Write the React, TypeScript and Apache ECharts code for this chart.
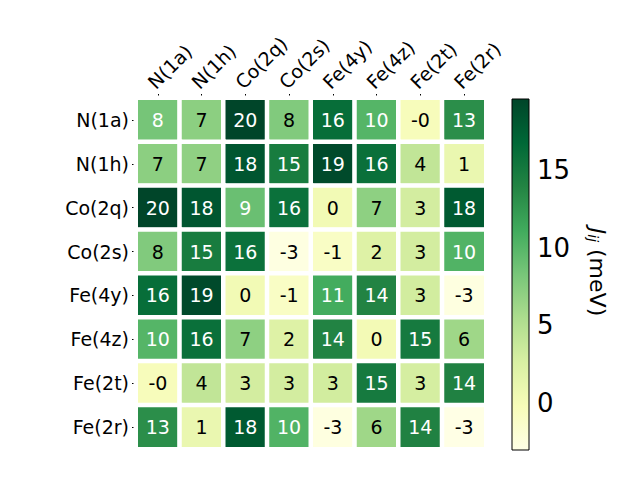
import React, { useEffect, useRef } from "react";
import * as echarts from "echarts";

const labels = ["N(1a)", "N(1h)", "Co(2q)", "Co(2s)", "Fe(4y)", "Fe(4z)", "Fe(2t)", "Fe(2r)"];

// rows of the symmetric J_ij matrix (meV)
const rowN1a = [8.4, 7.2, 19.6, 7.8, 16.2, 10.1, -0.3, 13.2];
const rowN1h = [7.2, 7.0, 18.2, 14.8, 19.2, 16.0, 4.2, 1.0];
const rowCo2q = [19.6, 18.2, 9.0, 15.9, 0.3, 7.1, 3.0, 17.9];
const rowCo2s = [7.8, 14.8, 15.9, -2.8, -1.0, 2.2, 3.0, 10.3];
const rowFe4y = [16.2, 19.2, 0.3, -1.0, 11.0, 14.0, 3.1, -2.7];
const rowFe4z = [10.1, 16.0, 7.1, 2.2, 14.0, 0.2, 15.0, 6.2];
const rowFe2t = [-0.3, 4.2, 3.0, 3.0, 3.1, 15.0, 2.9, 14.2];
const rowFe2r = [13.2, 1.0, 17.9, 10.3, -2.7, 6.2, 14.2, -3.0];
const matrix = [rowN1a, rowN1h, rowCo2q, rowCo2s, rowFe4y, rowFe4z, rowFe2t, rowFe2r];

const vMin = -3.03;
const vMax = 19.6;
const colorbarTicks = [0, 5, 10, 15];
const ylgn = ["#ffffe5", "#f7fcb9", "#d9f0a3", "#addd8e", "#78c679", "#41ab5d", "#238443", "#006837", "#004529"];

const FONT = "DejaVu Sans";

export default function App() {
  const ref = useRef<HTMLDivElement>(null);
  useEffect(() => {
    if (!ref.current) return;
    const chart = echarts.init(ref.current, null, { renderer: "svg" });
    const threshold = (vMin + vMax) / 2;
    const data: any[] = [];
    matrix.forEach((row, r) => {
      row.forEach((v, c) => {
        data.push({
          value: [c, r, v],
          label: { color: v > threshold ? "#ffffff" : "#000000" },
        });
      });
    });
    const cb = { x: 512, y: 99, w: 17, h: 351 };
    chart.setOption({
      animation: false,
      backgroundColor: "#ffffff",
      textStyle: { fontFamily: FONT },
      grid: [
        { left: 136, top: 98, width: 350, height: 351, containLabel: false },
        { left: cb.x, top: cb.y, width: cb.w, height: cb.h, containLabel: false },
      ],
      xAxis: [
        {
          type: "category",
          data: labels,
          position: "top",
          gridIndex: 0,
          axisLine: { show: false },
          axisTick: { show: true, alignWithLabel: true, length: 4, lineStyle: { color: "#000" } },
          axisLabel: {
            rotate: -45,
            fontSize: 19,
            color: "#000",
            fontFamily: FONT,
            margin: 6,
            interval: 0,
            align: "left",
            verticalAlign: "bottom",
          },
          splitLine: { show: false },
        },
        { type: "value", gridIndex: 1, show: false, min: 0, max: 1 },
      ],
      yAxis: [
        {
          type: "category",
          data: labels,
          inverse: true,
          gridIndex: 0,
          axisLine: { show: false },
          axisTick: { show: true, alignWithLabel: true, length: 4, lineStyle: { color: "#000" } },
          axisLabel: { fontSize: 19, color: "#000", fontFamily: FONT, margin: 7, interval: 0 },
          splitLine: { show: false },
        },
        {
          type: "value",
          gridIndex: 1,
          min: vMin,
          max: vMax,
          position: "right",
          axisLine: { show: false },
          splitLine: { show: false },
          axisTick: { show: true, length: 5, lineStyle: { color: "#000" }, customValues: colorbarTicks },
          axisLabel: { fontSize: 26, color: "#000", fontFamily: FONT, margin: 8, customValues: colorbarTicks },
        },
      ],
      visualMap: {
        show: false,
        type: "continuous",
        min: vMin,
        max: vMax,
        dimension: 2,
        seriesIndex: 0,
        inRange: { color: ylgn },
      },
      series: [
        {
          type: "heatmap",
          xAxisIndex: 0,
          yAxisIndex: 0,
          data,
          itemStyle: { borderColor: "#ffffff", borderWidth: 4.5 },
          label: {
            show: true,
            fontSize: 19,
            fontFamily: FONT,
            formatter: (p: any) => (p.value[2] as number).toFixed(0),
          },
          emphasis: { disabled: true },
        },
      ],
      graphic: [
        {
          type: "rect",
          shape: { x: cb.x, y: cb.y, width: cb.w, height: cb.h },
          style: {
            fill: new echarts.graphic.LinearGradient(
              0, 1, 0, 0,
              ylgn.map((c, i) => ({ offset: i / (ylgn.length - 1), color: c }))
            ),
            stroke: "#000",
            lineWidth: 1,
          },
          z: 10,
        },
        {
          type: "text",
          x: 597,
          y: 272,
          rotation: -Math.PI / 2,
          style: {
            text: "{J|J}{s|ij}{n| (meV)}",
            align: "center",
            verticalAlign: "middle",
            rich: {
              J: { fontSize: 22, fontStyle: "italic", fontFamily: FONT, fill: "#000" },
              s: { fontSize: 14, fontStyle: "italic", fontFamily: FONT, fill: "#000", verticalAlign: "bottom", padding: [8, 0, 0, 0] },
              n: { fontSize: 22, fontFamily: FONT, fill: "#000" },
            },
          },
          z: 10,
        },
      ],
    });
    return () => chart.dispose();
  }, []);
  return <div ref={ref} style={{ width: 640, height: 480, position: "fixed", left: 0, top: 0 }} />;
}
